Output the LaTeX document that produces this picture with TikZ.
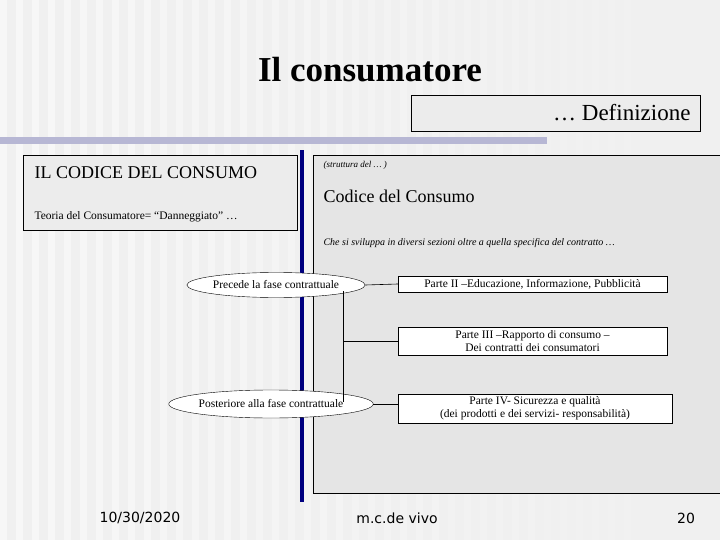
\documentclass[tikz,border=0pt]{standalone}
\usepackage{fontspec}
\usetikzlibrary{shapes.geometric}
\setmainfont{Liberation Serif}
\setsansfont{DejaVu Sans}
\begin{document}
\begin{tikzpicture}[x=1pt,y=-1pt,
  part/.style={draw=black,fill=white,align=center,font=\fontsize{11.5}{13}\selectfont,inner sep=1pt},
  ell/.style={draw=black,fill=white,ellipse,inner sep=0pt,font=\fontsize{11.5}{13}\selectfont},
  conn/.style={draw=black,line width=0.6pt}]
\useasboundingbox (0,0) rectangle (720,540);
\fill[gray!12] (0,0) rectangle (720,540);
\foreach \i in {0,...,44} {\fill[white,opacity={0.5*(1-\i/45)}] (\i*16,0) rectangle (\i*16+7,540);}
\node[font=\bfseries\fontsize{35}{38}\selectfont] (title) at (370,70) {Il consumatore};
\draw[fill=gray!15] (411,95) rectangle (700,131);
\node[anchor=east,font=\fontsize{23}{25}\selectfont] (def) at (694,113) {… Definizione};
\fill[blue!25!gray!45] (0,137) rectangle (411,144);
\fill[blue!25!gray!45] (0,137) rectangle (547,144);
\draw[fill=gray!15] (23,155) rectangle (297,230);
\node[anchor=west,font=\fontsize{18}{20}\selectfont] (icc) at (31,173) {IL CODICE DEL CONSUMO};
\node[anchor=west,font=\fontsize{11.5}{13}\selectfont] (teo) at (31,217) {Teoria del Consumatore= “Danneggiato”  …};
\draw[fill=gray!20] (313,155) rectangle (725,493);
\fill[blue!50!black] (300,150) rectangle (304,502);
\node[anchor=west,font=\itshape\fontsize{9}{10}\selectfont] (str) at (320,165) {(struttura del … )};
\node[anchor=west,font=\fontsize{18}{20}\selectfont] (cdc) at (320,196) {Codice del Consumo};
\node[anchor=west,font=\itshape\fontsize{10}{11}\selectfont] (che) at (320,243) {Che si sviluppa  in diversi sezioni oltre a quella specifica del  contratto …};
\node[ell,minimum width=146pt,minimum height=25pt] (e1) at (276,285) {Precede la fase contrattuale};
\node[ell,minimum width=158pt,minimum height=28pt] (e2) at (271,404) {Posteriore alla  fase contrattuale};
\node[part,minimum width=269pt,minimum height=16pt] (p2) at (532.5,284) {Parte II –Educazione, Informazione, Pubblicità};
\node[part,minimum width=269pt,minimum height=28pt] (p3) at (532.5,341) {Parte III –Rapporto di consumo –\\ Dei contratti dei consumatori};
\node[part,minimum width=274pt,minimum height=29pt] (p4) at (535,408.5) {Parte IV- Sicurezza e qualità\\ (dei prodotti e dei servizi- responsabilità)};
\coordinate (j2) at (343,341);
\coordinate (j3) at (343,402);
\coordinate (j1) at (343,291);
\draw[conn] (e1.east) -- (p2.west);
\draw[conn] (j1) -- (j3);
\draw[conn] (j2) -- (p3.west);
\draw[conn] (e2.east) -- (e2.east -| p4.west);
\node[font=\sffamily\fontsize{14}{15}\selectfont] (date) at (140,518) {10/30/2020};
\node[font=\sffamily\fontsize{14}{15}\selectfont] (auth) at (397,518) {m.c.de vivo};
\node[font=\sffamily\fontsize{14}{15}\selectfont] (pg) at (686,518) {20};
\end{tikzpicture}
\end{document}
